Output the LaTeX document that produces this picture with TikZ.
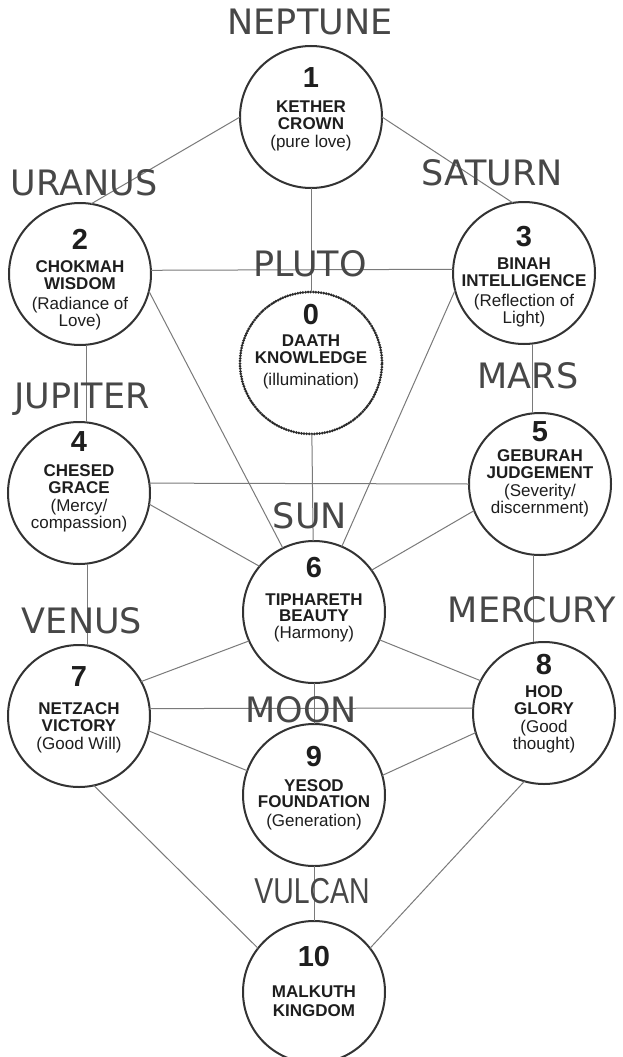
\documentclass[tikz,border=0pt]{standalone}
\usepackage{fontspec}
\usepackage{graphicx}
\setmainfont{Liberation Sans}
\newfontfamily\planetfont{DejaVu Sans}
\newfontfamily\narrowfont{Liberation Sans}
\definecolor{circ}{HTML}{333333}
\definecolor{lin}{HTML}{7A7A7A}
\definecolor{ink}{HTML}{1E1E1E}
\definecolor{pl}{HTML}{474747}
\newcommand\sefnum[1]{{\fontsize{29}{29}\selectfont\bfseries #1}}
\newcommand\sefsub[1]{{\mdseries #1}}
\begin{document}
\begin{tikzpicture}[x=1pt,y=-1pt,
  sph/.style={circle, draw=circ, line width=2pt, minimum size=142pt, inner sep=0pt, outer sep=0pt},
  dsph/.style={sph, draw=circ!85!black, dash pattern=on 0pt off 2.6pt, line cap=round, line width=3pt},
  txt/.style={align=center, inner sep=0pt, anchor=north, text=ink, font=\fontsize{17}{17.5}\selectfont\bfseries},
  planet/.style={anchor=base, text=pl, font=\planetfont\fontsize{35}{35}\selectfont, inner sep=0pt},
  conn/.style={draw=lin, line width=1pt}]
\fill[white] (0,0) rectangle (623,1057);
\useasboundingbox (0,0) rectangle (623,1057);
% spheres
\node[sph]  (n1)  at (311,117) {};
\node[sph]  (n2)  at (80,274) {};
\node[sph]  (n3)  at (524,273) {};
\node[dsph] (n0)  at (311,363) {};
\node[sph]  (n4)  at (79,493) {};
\node[sph]  (n5)  at (540,484) {};
\node[sph]  (n6)  at (314,612) {};
\node[sph]  (n7)  at (79,716) {};
\node[sph]  (n8)  at (544,713) {};
\node[sph]  (n9)  at (314,795) {};
\node[sph]  (n10) at (314,992) {};
% texts
\node[txt] (t1) at (311,67) {\sefnum{1}\\[7.5pt]KETHER\\CROWN\\\sefsub{(pure love)}};
\node[txt] (t2) at (80,229) {\sefnum{2}\\[5.5pt]CHOKMAH\\WISDOM\\[2pt]\sefsub{(Radiance of}\\\sefsub{Love)}};
\node[txt] (t3) at (524,226) {\sefnum{3}\\[5.5pt]BINAH\\INTELLIGENCE\\[2pt]\sefsub{(Reflection of}\\\sefsub{Light)}};
\node[txt] (t0) at (311,304) {\sefnum{0}\\[4.5pt]DAATH\\KNOWLEDGE\\[4pt]\sefsub{(illumination)}};
\node[txt] (t4) at (79,431) {\sefnum{4}\\[7.5pt]CHESED\\GRACE\\\sefsub{(Mercy/}\\\sefsub{compassion)}};
\node[txt] (t5) at (540,421) {\sefnum{5}\\[2.5pt]GEBURAH\\JUDGEMENT\\\sefsub{(Severity/}\\\sefsub{discernment)}};
\node[txt] (t6) at (314,557) {\sefnum{6}\\[11pt]TIPHARETH\\[-2pt]BEAUTY\\\sefsub{(Harmony)}};
\node[txt] (t7) at (79,666) {\sefnum{7}\\[10.5pt]NETZACH\\VICTORY\\\sefsub{(Good Will)}};
\node[txt] (t8) at (544,654) {\sefnum{8}\\[5.5pt]HOD\\GLORY\\\sefsub{(Good}\\\sefsub{thought)}};
\node[txt] (t9) at (314,746) {\sefnum{9}\\[7.5pt]YESOD\\[-1.5pt]FOUNDATION\\[1.5pt]\sefsub{(Generation)}};
\node[txt] (t10) at (314,946) {\sefnum{10}\\[13.5pt]MALKUTH\\[1.5pt]KINGDOM};
% connectors
\draw[conn] (n1.180) -- (n2.81);
\draw[conn] (n1.0) -- (n3.99.7);
\draw[conn] (n1) -- (n0);
\draw[conn] (n0) -- (n6);
\draw[conn] (n2.3) -- (n3.177.5);
\draw[conn] ([xshift=6pt]n2.south) -- ([xshift=7pt]n4.north);
\draw[conn] ([xshift=8pt]n3.south) -- ([xshift=-8pt]n5.north);
\draw[conn] (n2.-14.4) -- (n6.116);
\draw[conn] (n3.194.2) -- (n6.67);
\draw[conn] (n4.8.1) -- (n5.180);
\draw[conn] (n4.-9.9) -- (n6.140);
\draw[conn] (n5.202.7) -- (n6.36.7);
\draw[conn] ([xshift=8pt]n4.south) -- ([xshift=8pt]n7.north);
\draw[conn] ([xshift=-7pt]n5.south) -- ([xshift=-11pt]n8.north);
\draw[conn] (n6.204.5) -- (n7.29.4);
\draw[conn] (n6.-23) -- (n8.153);
\draw[conn] (n6) -- (n9);
\draw[conn] (n7.6.5) -- (n8.176);
\draw[conn] (n7.-12.3) -- (n9.160);
\draw[conn] (n8.196) -- (n9.16);
\draw[conn] (n7.-78) -- (n10.142);
\draw[conn] (n8.-106) -- (n10.38);
\draw[conn] (n9) -- (n10);
% planet labels
\node[planet] (neptune) at (310,35) {NEPTUNE};
\node[planet] (uranus) at (84,195) {URANUS};
\node[planet] (saturn) at (492,185) {SATURN};
\node[planet] (pluto) at (310,276) {PLUTO};
\node[planet] (jupiter) at (82,408) {JUPITER};
\node[planet] (mars) at (528,388) {MARS};
\node[planet] (sun) at (310,528) {SUN};
\node[planet] (venus) at (82,633) {VENUS};
\node[planet] (mercury) at (532,622) {MERCURY};
\node[planet] (moon) at (301,722) {MOON};
\node[planet, font=\narrowfont\fontsize{36}{36}\selectfont] (vulcan) at (312,903) {\scalebox{0.79}[1]{VULCAN}};
\end{tikzpicture}
\end{document}
